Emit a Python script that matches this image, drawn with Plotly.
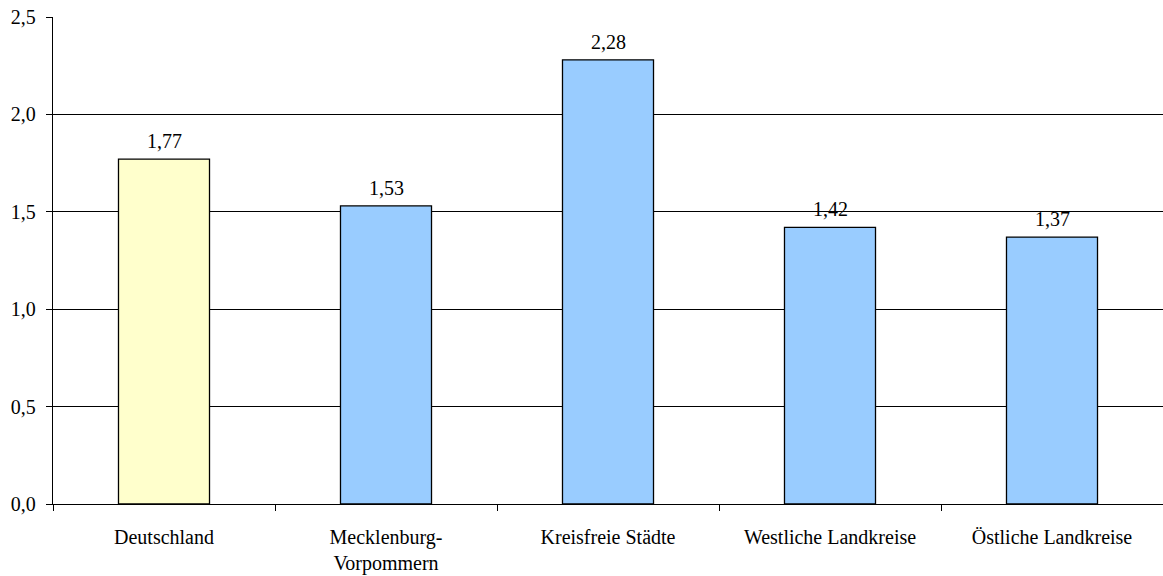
import plotly.graph_objects as go

categories = ["Deutschland", "Mecklenburg-<br>Vorpommern", "Kreisfreie Städte",
              "Westliche Landkreise", "Östliche Landkreise"]
values = [1.77, 1.53, 2.28, 1.42, 1.37]
bar_colors = ["#FFFFCC", "#99CCFF", "#99CCFF", "#99CCFF", "#99CCFF"]
y_ticks = [0.0, 0.5, 1.0, 1.5, 2.0, 2.5]

FONT = "Liberation Serif"
FSIZE = 20

fig = go.Figure()
fig.add_trace(go.Bar(
    x=categories,
    y=values,
    marker=dict(color=bar_colors, line=dict(color="black", width=1.3)),
    width=0.41,
    hoverinfo="skip",
))

# value labels above each bar, German decimal comma
for c, v in zip(categories, values):
    fig.add_annotation(
        x=c, y=v, text=f"{v:.2f}".replace(".", ","),
        showarrow=False, yanchor="bottom", yshift=5,
        font=dict(family=FONT, size=FSIZE, color="black"),
    )

fig.update_layout(
    width=1163, height=576,
    margin=dict(l=53, r=0, t=17, b=72),
    plot_bgcolor="white", paper_bgcolor="white",
    separators=",.",
    showlegend=False,
    font=dict(family=FONT, size=FSIZE, color="black"),
)
fig.update_xaxes(
    showline=True, linecolor="black", linewidth=1.3,
    ticks="outside", tickson="boundaries", ticklen=6, tickcolor="black",
    ticklabelstandoff=15,
    showgrid=False, tickfont=dict(family=FONT, size=FSIZE),
)
fig.update_yaxes(
    range=[0, 2.5], tickvals=y_ticks, tickformat=".1f",
    showline=True, linecolor="black", linewidth=1.3,
    ticks="outside", ticklen=6, tickcolor="black",
    ticklabelstandoff=6,
    showgrid=True, gridcolor="black", gridwidth=1,
    zeroline=False, tickfont=dict(family=FONT, size=FSIZE),
)

fig.write_html("out.html")
